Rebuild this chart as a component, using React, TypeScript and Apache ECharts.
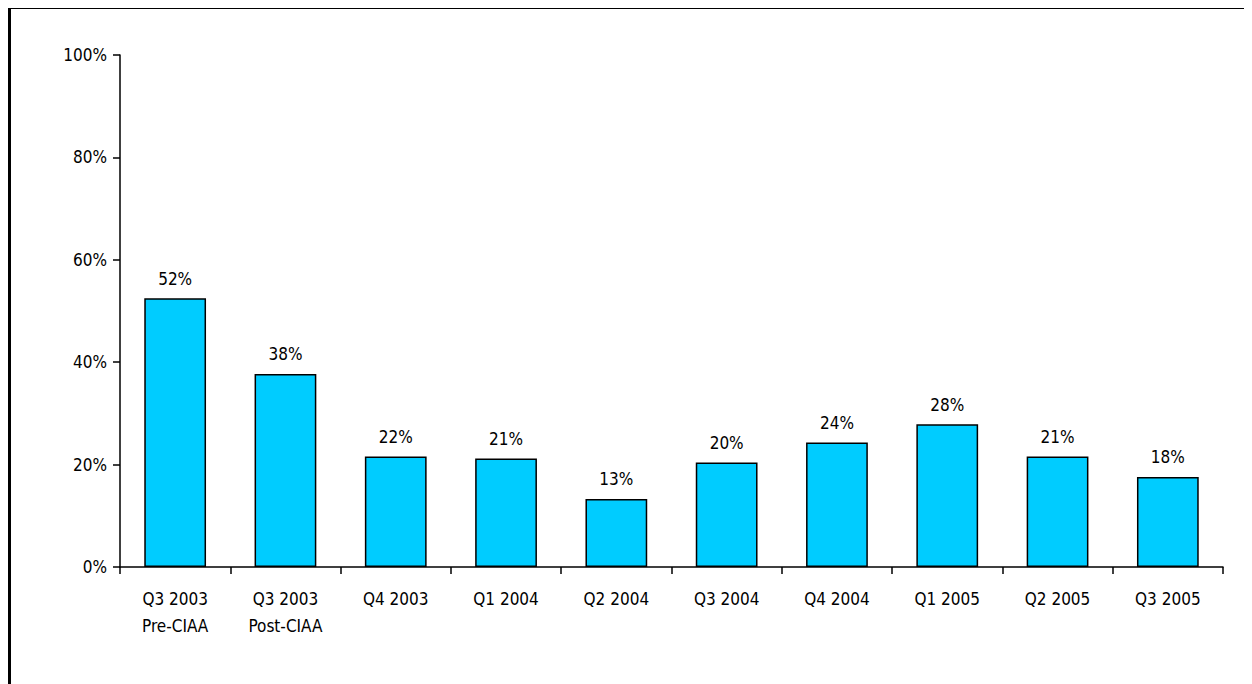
import React, { useEffect, useRef } from "react";
import * as echarts from "echarts";

const categories = ["Q3 2003\nPre-CIAA", "Q3 2003\nPost-CIAA", "Q4 2003", "Q1 2004", "Q2 2004", "Q3 2004", "Q4 2004", "Q1 2005", "Q2 2005", "Q3 2005"];
const values = [52.5, 37.7, 21.6, 21.2, 13.3, 20.4, 24.3, 27.9, 21.6, 17.6];
const valueLabels = ["52%", "38%", "22%", "21%", "13%", "20%", "24%", "28%", "21%", "18%"];

const FONT = "'Liberation Sans Narrow', 'DejaVu Sans Condensed', sans-serif";

export default function App() {
  const ref = useRef<HTMLDivElement>(null);
  useEffect(() => {
    const chart = echarts.init(ref.current!, null, { renderer: "svg" });
    chart.setOption({
      animation: false,
      grid: { left: 112, top: 47, right: 29, bottom: 117 },
      xAxis: {
        type: "category",
        data: categories,
        axisLine: { lineStyle: { color: "#000", width: 1.5 } },
        axisTick: { show: true, length: 7, lineStyle: { color: "#000", width: 1.5 } },
        axisLabel: { color: "#000", fontFamily: FONT, fontSize: 17, margin: 18, lineHeight: 27, interval: 0 },
      },
      yAxis: {
        type: "value",
        min: 0,
        max: 100,
        interval: 20,
        splitLine: { show: false },
        axisLine: { show: true, lineStyle: { color: "#000", width: 1.5 } },
        axisTick: { show: true, length: 7, lineStyle: { color: "#000", width: 1.5 } },
        axisLabel: { color: "#000", fontFamily: FONT, fontSize: 17, margin: 13, formatter: "{value}%" },
      },
      series: [
        {
          type: "bar",
          data: values,
          barWidth: "56%",
          itemStyle: { color: "#00CCFF", borderColor: "#000", borderWidth: 1.5 },
          label: {
            show: true,
            position: "top",
            distance: 11,
            color: "#000",
            fontFamily: FONT,
            fontSize: 17,
            formatter: (p: any) => valueLabels[p.dataIndex],
          },
        },
      ],
    });
    return () => chart.dispose();
  }, []);
  return (
    <div style={{ position: "relative", width: 1244, height: 676 }}>
      <div style={{ position: "absolute", left: 0, top: -3, width: 1244, height: 4, background: "#000" }} />
      <div style={{ position: "absolute", left: 0, top: -3, width: 3, height: 679, background: "#000" }} />
      <div ref={ref} style={{ position: "absolute", left: 0, top: 0, width: 1244, height: 676 }} />
    </div>
  );
}
